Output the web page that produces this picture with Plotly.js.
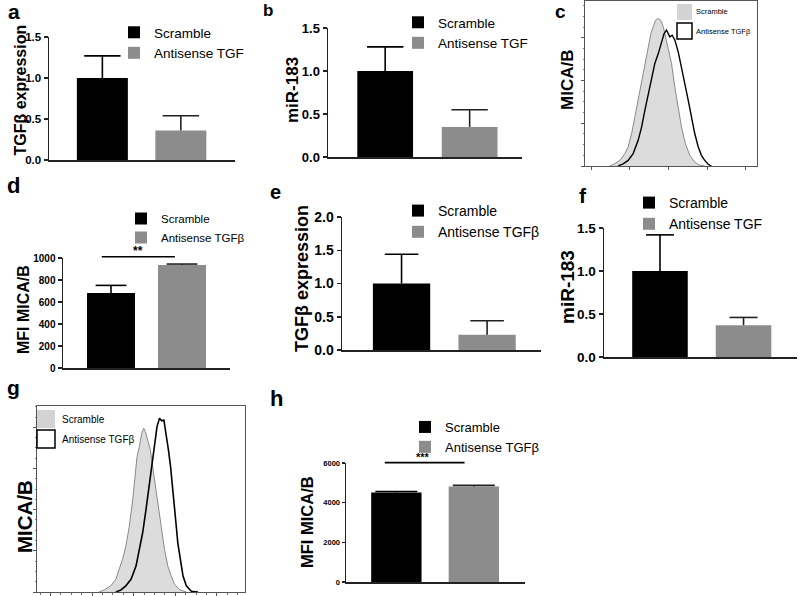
<!DOCTYPE html>
<html><head><meta charset="utf-8">
<script src="https://cdn.plot.ly/plotly-3.0.1.min.js"></script>
<style>html,body{margin:0;padding:0;background:#fff}#chart{width:800px;height:596px}</style>
</head><body><div id="chart"></div>
<script>
// ---------------- data ----------------
const groups = ['Scramble', 'Antisense TGFβ'];
const namesShort = ['Scramble', 'Antisense TGF'];
const namesFull = ['Scramble', 'Antisense TGFβ'];

// a: TGFβ expression
const aMean = [1.00, 0.36];
const aErr  = [0.27, 0.18];
// b: miR-183
const bMean = [1.00, 0.35];
const bErr  = [0.28, 0.20];
// d: MFI MICA/B
const dMean = [682, 936];
const dErr  = [69, 9];
// e: TGFβ expression
const eMean = [1.00, 0.23];
const eErr  = [0.44, 0.21];
// f: miR-183
const fMean = [1.00, 0.37];
const fErr  = [0.42, 0.09];
// h: MFI MICA/B
const hMean = [4510, 4820];
const hErr  = [50, 50];

// c: flow histogram (relative intensity 0-100, count)
const cScrX = [14.5,17.4,20.3,23.2,25.1,27.1,29.0,30.9,32.9,34.8,36.8,38.3,39.7,41.0,42.6,44.1,45.5,46.8,48.4,50.3,52.2,54.2,56.1,58.4,60.9,63.8,66.7,69.6];
const cScrY = [0,5.5,13,29,45,76,115,154,193,232,279,310,326,341,345,341,326,302,279,240,185,138,91,52,25,9,2,0];
const cAntX = [19.3,22.2,25.1,28.0,30.9,32.9,34.8,36.8,38.7,40.6,42.6,44.5,46.0,47.4,48.4,49.3,50.7,52.2,54.2,56.1,58.0,60.0,61.9,63.8,65.8,67.7,69.6,71.6,73.5];
const cAntY = [0,5,13,29,60,91,130,170,209,240,263,291,310,318,310,302,306,295,267,232,193,154,115,76,45,25,13,4,0];

// g: flow histogram
const gScrX = [29.8,32.3,35.5,37.9,39.5,41.1,42.7,44.4,46.0,47.1,48.1,49.2,50.3,51.3,52.1,53.2,54.5,55.6,56.8,58.1,59.7,61.3,62.9,64.5,66.1,68.5,71.8];
const gScrY = [0,5,15,31,55,79,111,160,224,281,329,353,385,398,390,369,345,305,265,224,160,103,63,39,19,6,0];
const gAntX = [37.9,40.3,42.7,45.2,47.6,49.2,50.8,52.4,54.0,55.2,56.5,57.7,58.9,60.0,61.0,62.1,63.2,64.2,65.3,66.5,67.7,69.0,70.2,71.8,74.2,77.4];
const gAntY = [0,5,15,31,63,103,144,200,265,313,361,402,422,416,418,385,345,305,240,184,119,71,39,15,2,0];

// ---------------- helpers (layout only) ----------------
const W = 800, H = 596;
const fx = p => p / W;
const fy = p => 1 - p / H;
const FONT = 'Liberation Sans, Arial, sans-serif';
const BLACK = '#000000', GRAY = '#8c8c8c';

const traces = [];
const layout = {
  width: W, height: H, margin: {l: 0, r: 0, t: 0, b: 0},
  paper_bgcolor: '#ffffff', plot_bgcolor: 'rgba(0,0,0,0)',
  barmode: 'overlay', showlegend: true,
  font: {family: FONT, color: '#000'},
  shapes: [], annotations: []
};

function yTitle(text, cx, cy, size) {
  layout.annotations.push({xref: 'paper', yref: 'paper', x: fx(cx), y: fy(cy), text: text,
    textangle: -90, showarrow: false, xanchor: 'center', yanchor: 'middle', borderpad: 0,
    font: {family: FONT, size: size, weight: 'bold', color: '#000'}});
}

function barPanel(k, means, errs, names, o) {
  const axName = k === 1 ? '' : k;
  const xa = 'x' + axName, ya = 'y' + axName;
  const lg = 'legend' + (o.leg === 1 ? '' : o.leg);
  const colors = [BLACK, GRAY];
  const errCol = ['#000', '#222'];
  for (let i = 0; i < 2; i++) {
    traces.push({
      type: 'bar', x: [groups[i]], y: [means[i]], name: names[i],
      xaxis: xa, yaxis: ya, legend: lg, width: o.bw,
      marker: {color: colors[i], line: {width: 0}},
      error_y: {type: 'data', array: [errs[i]], arrayminus: [0], symmetric: false,
                color: errCol[i], thickness: 1.6, width: 0},
      hoverinfo: 'y'
    });
  }
  // top caps of the error bars (mean + SEM)
  traces.push({
    type: 'scatter', mode: 'markers', x: groups, y: means.map((m, i) => m + errs[i]),
    xaxis: xa, yaxis: ya, showlegend: false, hoverinfo: 'skip', cliponaxis: false,
    marker: {symbol: 'line-ew', size: 2 * o.cap, line: {width: 1.6, color: errCol}}
  });
  layout['xaxis' + axName] = {
    domain: [fx(o.x0), fx(o.x1)], anchor: ya, type: 'category',
    categoryorder: 'array', categoryarray: groups,
    range: o.xr, showline: true, linecolor: '#222', linewidth: 1.5,
    ticks: '', showticklabels: false, showgrid: false, zeroline: false, fixedrange: true
  };
  layout['yaxis' + axName] = {
    domain: [fy(o.y0), fy(o.y1)], anchor: xa, range: o.yr, dtick: o.dtick,
    tickformat: o.fmt, showline: true, linecolor: '#222', linewidth: 1.5,
    ticks: 'outside', ticklen: o.tl || 4, tickwidth: 1.5, tickcolor: '#222',
    tickfont: {family: FONT, size: o.tfs, weight: 'bold', color: '#000'},
    showgrid: false, zeroline: false, fixedrange: true
  };
  yTitle(o.title, o.tcx, o.tcy, o.titfs);
  layout[lg] = {
    x: fx(o.lx), y: fy(o.ly), xanchor: 'left', yanchor: 'top',
    bgcolor: 'rgba(0,0,0,0)', borderwidth: 0, itemwidth: 30,
    font: {family: FONT, size: o.lfs, color: '#000'}, itemclick: false, itemdoubleclick: false
  };
}

barPanel(1, aMean, aErr, namesShort, {x0: 49, x1: 235, y0: 160, y1: 37, xr: [-0.68, 1.69], bw: 0.65, cap: 13,
  yr: [0, 1.5], dtick: 0.5, fmt: '.1f', tfs: 11.5, title: 'TGFβ expression', tcx: 19.5, tcy: 90, titfs: 16,
  leg: 1, lx: 114, ly: 17, lfs: 13.5});
barPanel(2, bMean, bErr, namesShort, {x0: 328, x1: 522, y0: 157, y1: 28, xr: [-0.677, 1.62], bw: 0.66, cap: 13,
  yr: [0, 1.5], dtick: 0.5, fmt: '.1f', tfs: 13, title: 'miR-183', tcx: 292, tcy: 90, titfs: 17,
  leg: 2, lx: 398, ly: 7, lfs: 13.5});
barPanel(4, dMean, dErr, namesFull, {x0: 63, x1: 230, y0: 368, y1: 258, xr: [-0.676, 1.676], bw: 0.676, cap: 11,
  yr: [0, 1000], dtick: 200, fmt: 'd', tfs: 10, tl: 4, title: 'MFI MICA/B', tcx: 23, tcy: 310, titfs: 16,
  leg: 3, lx: 121, ly: 204, lfs: 11.5});
barPanel(5, eMean, eErr, namesFull, {x0: 342, x1: 541, y0: 350, y1: 217, xr: [-0.696, 1.63], bw: 0.67, cap: 12,
  yr: [0, 2.0], dtick: 0.5, fmt: '.1f', tfs: 14, title: 'TGFβ expression', tcx: 302, tcy: 279, titfs: 18,
  leg: 4, lx: 398, ly: 195, lfs: 14});
barPanel(6, fMean, fErr, namesShort, {x0: 604, x1: 797, y0: 357, y1: 228, xr: [-0.67, 1.64], bw: 0.665, cap: 10,
  yr: [0, 1.5], dtick: 0.5, fmt: '.1f', tfs: 13.5, title: 'miR-183', tcx: 568, tcy: 287, titfs: 19,
  leg: 5, lx: 629, ly: 187, lfs: 14});
barPanel(8, hMean, hErr, namesFull, {x0: 346, x1: 525, y0: 582, y1: 463, xr: [-0.65, 1.66], bw: 0.65, cap: 15,
  yr: [0, 6000], dtick: 2000, fmt: 'd', tfs: 7.5, tl: 3, title: 'MFI MICA/B', tcx: 307, tcy: 522, titfs: 16.5,
  leg: 6, lx: 405, ly: 412, lfs: 13});

// ---------------- flow histograms ----------------
function flowPanel(k, sx, sy, ax, ay, o) {
  const xa = 'x' + k, ya = 'y' + k;
  traces.push({type: 'scatter', mode: 'lines', x: sx, y: sy, xaxis: xa, yaxis: ya, showlegend: false,
    fill: 'tozeroy', fillcolor: '#dcdcdc', line: {color: '#8a8a8a', width: 1}, hoverinfo: 'skip'});
  traces.push({type: 'scatter', mode: 'lines', x: ax, y: ay, xaxis: xa, yaxis: ya, showlegend: false,
    line: {color: '#000', width: o.lw}, hoverinfo: 'skip'});
  layout['xaxis' + k] = {
    domain: [fx(o.x0), fx(o.x1)], anchor: ya, range: [0, 100], showline: true, mirror: true,
    linecolor: '#555', linewidth: 1, ticks: 'outside', ticklen: 3, tickcolor: '#555', tickwidth: 1,
    tick0: o.t0, dtick: o.dt, showticklabels: false, showgrid: false, zeroline: false, fixedrange: true,
    minor: {ticks: 'outside', ticklen: 1.5, tickcolor: '#777', nticks: 5}
  };
  layout['yaxis' + k] = {
    domain: [fy(o.y0), fy(o.y1)], anchor: xa, range: [0, o.ymax], showline: true, mirror: true,
    linecolor: '#555', linewidth: 1, ticks: 'outside', ticklen: 3, tickcolor: '#555', tickwidth: 1,
    dtick: 100, showticklabels: false, showgrid: false, zeroline: false, fixedrange: true,
    minor: {ticks: 'outside', ticklen: 1.5, tickcolor: '#777', dtick: 25}
  };
  yTitle('MICA/B', o.tcx, o.tcy, o.titfs);
  // legend boxes (FlowJo style)
  layout.shapes.push({type: 'rect', xref: 'paper', yref: 'paper', x0: fx(o.lx0), x1: fx(o.lx1),
    y0: fy(o.ly0), y1: fy(o.ly1), fillcolor: '#d3d3d3', line: {width: 0}});
  layout.shapes.push({type: 'rect', xref: 'paper', yref: 'paper', x0: fx(o.lx0), x1: fx(o.lx1),
    y0: fy(o.ly2), y1: fy(o.ly3), fillcolor: '#ffffff', line: {width: 1.5, color: '#000'}});
  layout.annotations.push({xref: 'paper', yref: 'paper', x: fx(o.tx), y: fy((o.ly0 + o.ly1) / 2),
    text: 'Scramble', showarrow: false, xanchor: 'left', yanchor: 'middle', borderpad: 0,
    font: {family: FONT, size: o.lfs, color: '#000'}});
  layout.annotations.push({xref: 'paper', yref: 'paper', x: fx(o.tx), y: fy((o.ly2 + o.ly3) / 2),
    text: 'Antisense TGFβ', showarrow: false, xanchor: 'left', yanchor: 'middle', borderpad: 0,
    font: {family: FONT, size: o.lfs, color: '#000'}});
}
flowPanel(3, cScrX, cScrY, cAntX, cAntY, {x0: 585, x1: 757, y0: 166, y1: 1, ymax: 386, t0: 3.5, dt: 22.5,
  tcx: 567, tcy: 80, titfs: 17, lw: 1.4, lx0: 677, lx1: 692, ly0: 4, ly1: 20, ly2: 23, ly3: 39, tx: 695, lfs: 7.5});
flowPanel(7, gScrX, gScrY, gAntX, gAntY, {x0: 37, x1: 245, y0: 592, y1: 406, ymax: 452, t0: 6.5, dt: 20,
  tcx: 24, tcy: 517, titfs: 20.5, lw: 1.6, lx0: 37, lx1: 55, ly0: 410, ly1: 428, ly2: 430, ly3: 448, tx: 61, lfs: 10});

// ---------------- significance markers ----------------
layout.shapes.push({type: 'line', xref: 'x4', yref: 'y4 domain', x0: -0.13, x1: 0.90, y0: 1.012, y1: 1.012,
  line: {color: '#000', width: 1.6}});
layout.annotations.push({xref: 'x4', yref: 'y4 domain', x: 0.38, y: 1.064, text: '**', showarrow: false,
  yanchor: 'middle', font: {family: FONT, size: 12, weight: 'bold', color: '#000'}});
layout.shapes.push({type: 'line', xref: 'x8', yref: 'y8 domain', x0: -0.15, x1: 0.88, y0: 1.003, y1: 1.003,
  line: {color: '#000', width: 1.6}});
layout.annotations.push({xref: 'x8', yref: 'y8 domain', x: 0.34, y: 1.05, text: '***', showarrow: false,
  yanchor: 'middle', font: {family: FONT, size: 11, weight: 'bold', color: '#000'}});

// ---------------- panel letters ----------------
const letters = [['a', 7, 11.5, 21], ['b', 262, 10.5, 17], ['c', 554, 12, 19], ['d', 6, 185.4, 22],
                 ['e', 269, 192.4, 20], ['f', 578, 195.4, 21], ['g', 6, 387.4, 21], ['h', 269, 398.4, 22]];
letters.forEach(([t, x, y, s]) => layout.annotations.push({xref: 'paper', yref: 'paper', x: fx(x), y: fy(y),
  text: t, showarrow: false, xanchor: 'left', yanchor: 'middle', borderpad: 0,
  font: {family: FONT, size: s, weight: 'bold', color: '#000'}}));

Plotly.newPlot('chart', traces, layout, {staticPlot: true, displayModeBar: false});
</script></body></html>
